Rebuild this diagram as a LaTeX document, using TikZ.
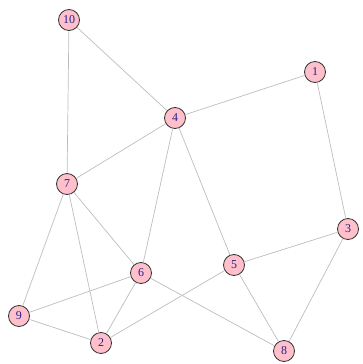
\documentclass[tikz,border=0pt]{standalone}
\usepackage{fontspec}
\setmainfont{Liberation Serif}
\definecolor{nodepink}{HTML}{FFC0CB}
\definecolor{edgegray}{HTML}{BDBDBD}
\definecolor{labelblue}{HTML}{22228A}
\begin{document}
\begin{tikzpicture}[x=1pt,y=-1pt,
  vtx/.style={circle,draw=black!80,line width=0.8pt,fill=nodepink,minimum size=21pt,inner sep=0pt,text=labelblue,font=\fontsize{12}{12}\selectfont},
  edge/.style={draw=edgegray,line width=0.7pt}]
\useasboundingbox (0,0) rectangle (363,364);
\node[vtx] (n10) at (69,20) {10};
\node[vtx] (n1) at (315,72) {1};
\node[vtx] (n4) at (175,118) {4};
\node[vtx] (n7) at (67,184) {7};
\node[vtx] (n3) at (348,229) {3};
\node[vtx] (n6) at (141,273) {6};
\node[vtx] (n5) at (234,265) {5};
\node[vtx] (n9) at (19,316) {9};
\node[vtx] (n2) at (101,343) {2};
\node[vtx] (n8) at (284,351) {8};
\foreach \a/\b in {n10/n4,n10/n7,n1/n4,n1/n3,n4/n7,n4/n6,n4/n5,n7/n6,n7/n9,n7/n2,n3/n5,n3/n8,n5/n2,n5/n8,n6/n9,n6/n2,n6/n8,n9/n2}
  \draw[edge] (\a) -- (\b);
\end{tikzpicture}
\end{document}
